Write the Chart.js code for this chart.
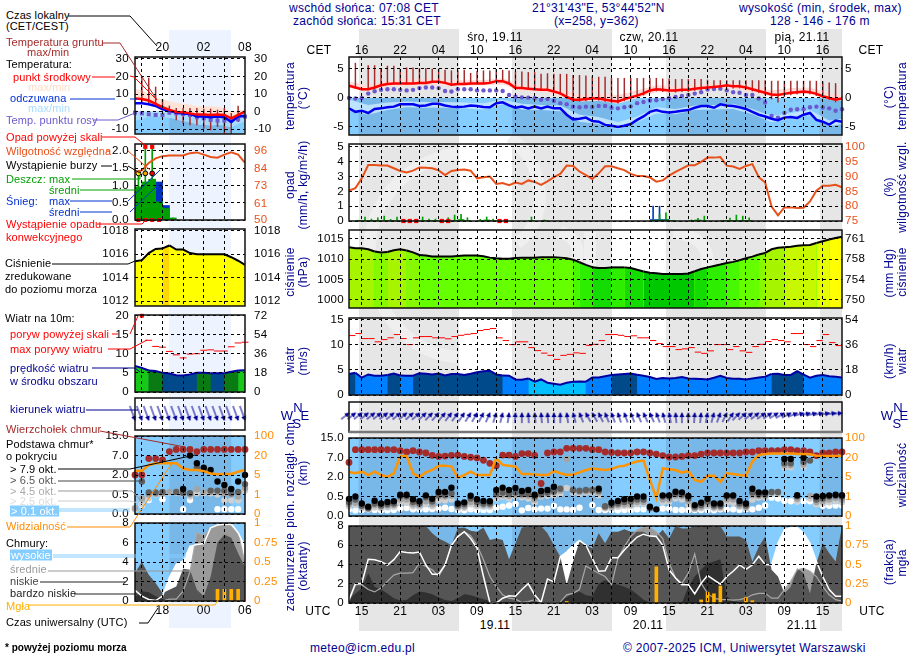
<!DOCTYPE html>
<html>
<head>
<meta charset="utf-8">
<title>Meteogram</title>
<script src="https://cdn.jsdelivr.net/npm/chart.js@4"></script>
<style>
  html, body { margin: 0; background: #fff; }
  #page { position: relative; width: 910px; height: 660px; overflow: hidden; font: 12px "Liberation Sans", Arial, sans-serif; letter-spacing: .3px; z-index: 0; }
  #page canvas { position: absolute; }
  .t { position: absolute; white-space: nowrap; line-height: 1; }
  svg { position: absolute; left: 0; top: 0; }
</style>
</head>
<body>
<div id="page"></div>
<script>
// --- time axes: hours since 13 UTC 18.11 (right), UTC hour from 18.11 00h - offset (left) ---
const hours = Array.from({ length: 78 }, (_, i) => i);
const leftHours = Array.from({ length: 17 }, (_, i) => i + 14);
const nightStart = [1.5, 25.5, 49.5, 73.5];
const nightEnd = [17.13, 41.13, 65.13, 77];
const leftNight = [19, 28];

const utcHours = [2, 8, 14, 20, 26, 32, 38, 44, 50, 56, 62, 68, 74];
const utcLabels = ['15', '21', '03', '09', '15', '21', '03', '09', '15', '21', '03', '09', '15'];
const cetLabels = ['16', '22', '04', '10', '16', '22', '04', '10', '16', '22', '04', '10', '16'];
const leftTickHours = [18, 24, 30];
const leftUtcLabels = ['18', '00', '06'];
const leftCetLabels = ['20', '02', '08'];

// --- temperature ---
const tempMid = [2.1,1.8,1.5,1.5,1.8,2.2,2.4,2.5,2.5,2.5,2.5,2.6,2.6,2.8,2.8,2.6,2.3,2.4,2.4,2.5,2.5,2.5,2.6,2.9,2.9,2.5,1.7,1.7,1.6,1.5,1.4,1.4,1.1,.8,.2,-.3,-.3,-.2,-.1,-.1,-.3,
  -.5,-.6,-.2,.1,.4,.8,1.3,1.5,1.4,1.3,1.3,1.4,1.4,1.6,1.7,1.8,1.9,2,2.2,2,2,1.8,1.5,1.2,.9,.6,.5,.7,.9,1,1.1,1,.7,.3,0,-.3,-.1];
const tempFeels = [-1.8,-2.4,-2.2,-2.6,-1.9,-1.8,-1.6,-1.5,-1.1,-1.1,-1.1,-1.4,-1.3,-1,-1,-1.3,-1.5,-1.55,-1.5,-1.3,-1.4,-1.55,-1.6,-.9,-.75,-1.3,-1.7,-1.5,-1.8,-1.5,-1.8,-1.5,-1.8,-1.8,-2.9,-3.7,-3.6,-3.4,-4,-4.1,-4.65,
  -4.8,-5,-4.8,-4.5,-3.8,-3.2,-2.4,-2.1,-2.4,-2.5,-2.4,-2.2,-2.1,-1.7,-1.4,-1.4,-1.7,-1.1,-1.3,-1.4,-1.6,-1.9,-2.4,-2.9,-3.2,-3.6,-3.85,-3.4,-3.3,-3.45,-2.9,-2.6,-3.8,-4.1,-4.6,-3.9,-4.1];
const tempDew = [0,-.1,0,.75,1.15,1.4,1.5,1.5,1.4,1.3,1.4,1.7,1.8,1.8,1.7,1.2,1.1,1.5,1.5,1.5,1.3,1.3,1.3,1.3,1.2,.5,.2,.1,.05,-.05,-.3,-.2,-.5,-.9,-1.1,-1.5,-1.6,-1.5,-1.55,-1.4,-1.4,
  -1.7,-1.8,-1.6,-1.45,-.9,-.7,-.45,-.4,-.2,-.05,.15,.35,.5,.75,1,1.45,1.55,1.6,1.3,1,.9,.5,.5,-.1,-.8,-3.1,-3.4,-2.6,-2.05,-1.95,-1.95,-1.6,-1.5,-1.65,-1.8,-2.2,-1.95];
const groundMax = [null,6,1.7,5.6,5.6,5.1,5.5,5.5,4.9,5.2,5.2,5.1,5.1,5,5,4.8,4.7,4.7,4.8,4.25,4.6,4.7,4.7,4.9,4.8,4.7,4.5,4.5,4.4,4.4,4.1,4.2,4.1,4.1,4.1,3.9,3.9,3.8,3.7,3.6,3.6,
  3.4,3.4,3.4,3.4,3.4,3.4,3.4,3.4,3.3,3.3,3.2,3.2,3.2,3.2,3.2,3.1,3,3,3,3,3,3,3,3,3,2.9,2.9,2.9,2.9,2.9,2.9,2.9,2.9,2.8,2.6,2.5,null];
const groundMin = [null,1.7,1.4,1.4,1.6,2,2.3,2.4,2.4,2.4,2.4,2.5,2.5,2.7,2.7,2.5,2.2,2.3,2.3,2.4,2.4,2.4,2.5,2.8,2.8,2.4,1.6,1.6,1.5,1.4,1.3,1.3,1,.6,-.1,-.6,-.6,-.5,-.4,-.4,-.6,
  -.8,-.9,-.5,-.2,.1,.5,1,1.2,1.1,1,1,1.1,1.1,1.3,1.4,1.5,1.6,1.7,1.9,1.7,1.7,1.5,1.2,.9,.5,-.2,-.75,.2,.5,.7,.8,.7,.4,0,-.3,-.7,null];
const bandHours = [0,3,6,9,12,15,18,21,24,27,30,33,36,39,42,45,48,51,54,57,60,63,66,69,72,75,77];
const tempBandMax = [2.8,2.2,3.1,3.2,3.3,3.2,3,3.1,3.4,2.2,2.1,1.5,.5,.7,.5,1.3,2.2,2,2.2,2.5,2.6,2,1.3,1.7,1.8,.8,.5];
const tempBandMin = [1.7,1.2,2,2.1,2.2,2.2,2.1,2.2,2.3,1.2,1.1,.3,-.6,-.5,-1,0,1,1,1.2,1.6,1.6,1,.2,.6,.7,-.3,-.5];
const feelsBandMax = [-.3,-1.2,-.8,-.6,-.7,-.7,-.8,-.9,-.3,-1,-1.2,-1.3,-2.9,-3.3,-4.2,-3.2,-1.6,-1.9,-1.3,-1.2,-1,-1.9,-3.1,-2.6,-2.1,-3.9,-3.6];
const feelsBandMin = [-2.2,-2.9,-2.1,-1.6,-1.7,-1.7,-1.8,-2,-1.1,-2,-2.1,-2.3,-4.1,-4.5,-5.4,-4.2,-2.7,-2.8,-2.1,-2,-1.9,-2.8,-4.2,-3.6,-3,-4.9,-4.5];

const lTempMid = [7.4,7.2,6.3,4.4,2.5,1,-.2,-.4,-1,-1.7,-1.7,-1.9,-1.7,-1.9,-3.8,-1.9,0];
const lTempFeels = [4.7,4.7,4.2,3.2,1.3,.6,-.6,-1,-1.3,-2.8,-2.8,-3.2,-2.8,-3.2,-5.9,-2.8,-2.5];
const lTempDew = [-.6,-1,-1.5,-1.9,-1.9,-.6,-1,-1.3,-1.9,-3.2,-3.8,-4.7,-5.1,-5.1,-5.1,-4.4,-2.8];
const lBandMax = [13,12,10,8,7,6,5,4.5,4,3,3,3,3,1.5,0,.5,1];
const lBandMin = [6.6,6.3,5.3,3.6,1.7,.2,-1,-1.2,-1.8,-2.4,-2.4,-2.6,-2.4,-2.6,-4.5,-2.6,-.8];
const lFeelsMax = [0,0,0,0,0,-.4,-.8,-1,-1.1,-2,-2,-2.4,-2,-2.4,-4.5,-2,-1.6];
const lFeelsMin = [-5,-4.5,-2.6,-2.8,-3,-3.5,-4.5,-5.5,-6,-7.5,-7.5,-8,-7.5,-8,-9,-7,-5.5];
const lGroundMax = [null,20,19,14,7,3.2,1.9,1.9,1.9,1.9,1.5,1.5,.9,1.9,-1,3.2,-1];
const lGroundMin = [null,4.7,4.7,2.8,1,-1.3,-4.7,-6.6,-7.6,-7.6,-9.5,-10.4,-8.5,-12.5,-12.5,-5.7,-1];

// --- precipitation and humidity ---
const humidity = [85.3,86.1,89.4,93.9,93.9,93.7,93.7,92.8,91.9,91.4,92,93.1,93,92.8,92.1,90.5,91.9,92.2,92.4,92,89.4,89.8,90,87.5,87.8,87.1,88,87.5,88.7,88.2,87.2,88.4,89.8,90.9,93.7,93.6,91.7,90.5,89.2,91.1,93.5,
  93.5,92.8,92.2,90.9,90.2,90.2,89.7,88.3,88.7,90.3,91.6,92.7,93.8,93.8,95,96.4,96.4,96.6,93.7,93.4,92.6,93.6,94.2,89.8,88,79.9,76.9,79.6,79.6,79.4,79.5,81.6,85.2,86.9,86.9,87.2,86.4];
const rainHours = [1.5,2.5,3.5,4.5,5.5,6.5,7.5,10.5,11.5,12.5,13.5,15.5,16.5,17.5,18.5,20.5,21.5,22.5,28.5,30.5,47.5,48.5,49.5,50.5,53.5,54.5,55.5,58.5,59.5,60.5,61.5,62.5];
const rainMax = [.05,.27,.13,.22,.33,.11,.27,.07,.27,.13,.13,.22,.4,.45,.22,.11,.27,.13,.27,.07,.1,.45,.55,.04,.07,.18,.33,.05,.2,.4,.33,.22];
const rainMean = [.01,.03,.02,.03,.04,.02,.03,.01,.03,.02,.02,.03,.05,.1,.03,.02,.07,.02,.03,.01,.03,.07,.07,.01,.02,.07,.03,.01,.02,.04,.03,.02];
const snowHours = [47.5,48.5,49.5];
const snowMax = [1,1,.1];
const snowMean = [.1,.1,.1];
const convectiveHours = [8.5,9.5,10.5,14.5,15.5,23.5,24.5];

const lHumidity = [82,83,88,91,92.5,93,93,93,94.5,95,93.5,92,91.5,93.5,95,93.5,88];
const lRainHours = [14.5,15.5,16.5,17.5,18.5,19.5];
const lRainMean = [.96,1.1,1.18,.52,.33,.06];
const lSnowMean = [0,0,0,1.1,.42,0];
const lRainMax = [1.35,2.12,2.12,.52,.33,.06];
const lStormHours = [14.5,15.5,16.5];
const lStormLevel = [1.35,1.35,1.35];
const lOverScale = [2.12,2.12];
const lOverHours = [15.5,16.5];
const lConvectiveHours = [14.5,15.5,16.5,17.5];

// --- pressure ---
const pressure = [1012.95,1012.7,1012.7,1012.45,1011.9,1011.65,1011.8,1012.2,1012.45,1012.15,1011.7,1011.05,1010.9,1010.65,1010.65,1010.65,1010.65,1010.8,1010.9,1010.9,1010.9,1010.75,1010.4,1010.25,1010.15,1010.15,1010.3,1010.4,1010.4,1010.4,1010.5,1010.5,1010.5,1010.4,1010.25,1009.9,1009.25,1008.6,1008.05,1007.85,1007.85,
  1008,1008,1008,1007.85,1007.4,1007,1006.7,1006.55,1006.4,1006.4,1006.4,1006.4,1006.5,1007.05,1007.6,1008,1008.35,1008.7,1009.1,1009.35,1009.75,1010.25,1010.65,1011.15,1011.55,1012.45,1012.85,1012.95,1013.1,1013.35,1013.45,1013.5,1014,1014.45,1014.85,1015.25,1015.55];
const lPressure = [1015.4,1015.5,1016.1,1016.45,1016.5,1016.75,1016.4,1016.4,1016.1,1016,1016,1016,1016,1016,1015.75,1015.45,1015.1];

// --- wind ---
const windSpeed = [4.2,4.45,3.45,4.1,3.85,3.85,4,4.3,3.9,3.85,3.85,4.35,4.25,4.1,4.3,3.9,4.2,4.2,4,4.25,4.55,4.75,4.85,4.1,3.9,3.85,3.1,3.05,3.3,2.65,3.1,2.45,2.25,2.05,2.45,2.65,2.7,2.65,3.5,3.5,3.75,
  4,4.1,4.2,4.3,4.05,3.85,3.6,3.2,3.4,3.3,3.4,3.6,3.3,3.25,3.2,3.1,3.45,3.85,3.4,3.25,3.25,3.1,3.3,3.5,3.65,4.2,4.25,4,4,4.75,4.05,3.45,3.85,4,3.75,3.65,3.5];
const gustHours = [.5,1.5,2.5,3.5,4.5,5.5,6.5,7.5,8.5,9.5,10.5,11.5,12.5,13.5,14.5,15.5,16.5,17.5,18.5,19.5,20.5,21.5,22.5,23.5,24.5,25.5,26.5,27.5,28.5,29.5,30.5,31.5,32.5,33.5,34.5,35.5,36.5,37.5,38.5,39.5,40.5,
  41.5,42.5,43.5,44.5,45.5,46.5,47.5,48.5,49.5,50.5,51.5,52.5,53.5,54.5,55.5,56.5,57.5,58.5,59.5,60.5,61.5,62.5,63.5,64.5,65.5,66.5,67.5,68.5,69.5,70.5,71.5,72.5,73.5,74.5,75.5,76.5];
const windGust = [11.85,12.25,11.25,11.25,10.6,11.05,11.4,12.05,11.25,10.05,11.4,11.65,11.65,11.4,11.4,11.2,11.65,11.9,12.1,12.25,12.85,13.05,13.25,11.4,10.85,10.05,10.6,10.6,9.45,8.85,8.35,7.9,7.1,7.9,8.1,8.4,8.3,9.9,10.1,10.85,12.05,
  12.05,11.9,11.65,11.8,11.4,11.4,10.85,10.25,9.65,9.65,9.05,9.2,9.45,8.55,8.3,8.8,10.05,10.05,9.05,9.65,8.8,8.5,9.65,10.1,10.65,11.05,10.85,10.6,12.25,12.25,10.05,9.65,10.85,12.05,10.45,9.85];
const windDir = [52,52,52,52,52,52,52,50,50,50,48,48,46,44,42,40,38,36,34,32,30,28,24,18,14,8,4,0,-3,-5,-5,-4,-2,0,-8,-15,-22,-28,-30,-26,-22,
  -20,-18,-20,-22,-24,-25,-24,-20,-15,-10,-5,0,2,4,6,10,15,20,26,34,44,48,50,52,54,56,58,60,62,68,74,76,76,78,80,83,85];
const lWindSpeed = [6.8,6.3,5.6,5.5,5,4.8,4.4,4.3,4.6,5,5,4.9,4.9,4.9,5.3,5.6,5.7];
const lGustHours = [16,17,18,19,20,21,22,23,24,25,26,27,28,29,30];
const lGust = [13.5,11.9,11.7,10.6,9.7,8.9,9.9,10,10.9,11,10.7,10.7,11.8,12.8,13];
const lWindDir = [160,160,160,160,160,160,160,160,160,160,160,160,160,160,160,160,160];

// --- cloud bases and tops (km), visibility (km) ---
const cloudTop = [5.75,10.2,10.2,10.2,10.2,10.2,10.2,10.2,9.8,9.25,9.8,9.25,8.85,7.9,7.45,7.6,7.9,8,7.45,7.1,6.9,6.3,5.5,4.9,8,8,7.45,8.6,8.6,7.9,1.5,8.85,9.25,9.25,10.75,10.75,10.75,10.75,10.2,10.2,9.25,
  9.1,8.85,8.85,8.85,9.25,9.25,8.85,8.4,7.8,7.2,7.2,7.45,7.8,7.8,8.4,8.85,8.85,8.85,8.85,8.85,8.85,9.25,9.25,9.8,9.8,9.8,9.8,10.2,10.2,9.8,9.8,9.25,7.8,8.85,8.85,9.25,9.25];
const base79 = [.44,.5,.32,.24,.39,.32,.36,.38,.64,.64,.43,.38,.59,.44,.85,.85,1.18,.32,.35,.56,.43,.385,.38,1,1.18,1,1.15,.92,1,.64,.92,1,1.25,null,null,null,null,null,null,1.1,null,
  .34,.385,.43,.44,.5,.5,.24,.17,.59,.59,.87,.82,.54,.28,.34,.44,.32,.32,.59,.59,.385,.32,1.1,.82,.82,null,null,6.6,6.6,.6,6.95,null,.5,.54,.59,.64,.6];
const base65 = [.36,.42,.26,.2,.32,.27,.3,.32,.52,.52,.36,.32,.48,.37,.62,.62,.75,.27,.3,.45,.36,.32,.32,.7,.8,.7,.8,.7,.7,.5,.7,.8,.9,1.1,null,1,.95,1,1,.95,.25,
  .28,.32,.36,.37,.42,.42,.2,null,.5,.5,.7,.65,.45,.24,.28,.37,.27,.27,.5,.5,.32,.27,.8,.65,.65,.85,.85,5.5,5.5,.52,5.9,6.2,.42,.45,.5,.55,.5];
const base45 = [.3,.34,.24,.2,.28,.24,.27,.28,.42,.42,.3,.28,.38,.3,.5,.5,.55,.24,.25,.36,.3,.28,.28,.55,.62,.55,.6,.6,.55,.42,.6,.7,.8,.95,6.6,.95,.85,.9,.9,.8,.22,
  .24,.28,.3,.3,.36,.36,null,null,.42,.42,.55,.52,.37,.2,.24,.3,.23,.23,.42,.42,.27,.23,.6,.55,.55,.8,.8,5,5,.44,5.2,.55,.36,.38,.42,.46,.42];
const base25 = [.25,.28,.2,.17,.22,.2,.22,.24,.34,.34,.25,.24,.3,.25,.4,.4,.42,.2,.21,.3,.25,.24,.24,.45,.5,.45,.5,.48,.45,.36,.5,.55,.6,.7,1.15,.8,.7,.8,.8,.6,.2,
  .2,.24,.26,.26,.3,.3,null,null,.36,.36,.45,.42,.3,.18,.2,.25,.2,.2,.34,.34,.24,.2,.42,.47,.47,.7,.7,4.5,4.5,.38,4.6,.45,.3,.32,.35,.38,.35];
const base01 = [.17,.145,.154,.17,.154,.145,.145,.154,.19,.205,.17,.17,.17,.18,.19,.21,.18,.154,.145,.17,.154,.154,.154,.21,.24,.27,.31,.145,.205,.17,.19,.19,.26,.17,.17,.16,.21,null,.28,.154,.154,
  .154,.145,.154,.154,.17,.17,null,null,.19,.19,.154,.154,.154,.154,.154,.154,.145,.17,.17,.17,.154,.17,.17,.21,.27,.47,.45,.39,.38,.38,.38,.38,.31,.26,.26,.27,.27];
const visibility = [8.9,7.85,9.1,6.5,9.1,6.5,5.05,7.85,26,26,7.85,5.05,8.6,10.4,13.7,13.7,13,4.85,6.5,9.1,6.5,6.5,6.5,19.4,14.3,13.7,13,7.3,7.3,7,6.5,6.5,9.6,7.85,6.5,7,8.6,10.4,11.6,10.9,10.4,
  11.2,13,13.7,15.5,16.9,17.6,4.4,.91,11.6,10.9,10.4,8.3,9.8,4.4,4,6,6,4,7.85,7.3,6.5,6,16.9,30,34,36,36,36,36,34,34,33,27,26,26,26,27];

const lCloudTop = [2,2,6.2,6.2,5.85,8.6,9.5,9.5,9.5,8.6,9.5,9.5,9.5,9.5,9.5,9.5,9.5];
const lBase79 = [null,null,null,null,null,null,null,.92,7,5,3.9,3.3,1.5,1.24,.92,1.5,2];
const lBase65 = [null,1.5,.66,.66,.7,null,.7,.62,.6,4,3.3,.8,.8,.8,.6,.7,1.3];
const lBase45 = [.15,.4,.5,.55,.6,.7,.7,.62,.5,.9,.7,.7,.7,.6,.5,.45,1];
const lBase25 = [.12,.25,.4,.5,.55,.65,.65,.55,.45,.6,.6,.6,.5,.35,.35,.35,.8];
const lBase01 = [null,.23,.36,null,.38,null,null,.12,.36,null,null,null,.12,.12,.12,.12,null];
const lVisibility = [8.3,8.3,12.7,14,14,14,14,10,8.9,8.9,8,6.2,5.5,5.75,5.75,7.5,8.9];

// --- cloud cover (oktas), fog (fraction) ---
const cloudHigh = [.35,2,2.05,4.55,4.5,4.3,3.95,4.5,5.35,5.25,5.2,5.3,3.95,3,3,3.95,6,6.9,7.4,6.7,5.7,2.75,.05,0,.5,.75,.7,1.4,2,.85,.05,2.5,2.2,4.8,5.3,6,6.5,6,4.65,3.3,3.35,
  4.7,4.7,5.5,6.2,6.85,7.15,6.95,6.9,6,3.45,2.6,1.9,1.9,.95,2.05,2.85,2.4,1.95,2.75,3.3,3.95,3.5,3.95,4.85,4,3.95,6.2,7.6,7.85,7.85,7.25,6.2,4.3,2.75,1.4,.7,.7];
const cloudMid = [.2,1.9,1.9,1.4,1.15,1.55,2.25,2.9,3.1,3.1,3.15,4.15,3.8,3.45,2.75,3.95,6,6.9,7.4,7,6,4.5,2.75,1.7,.85,.5,.4,.05,.15,.35,.05,.05,.05,.1,.85,1,1.4,3.85,3.45,3.1,2.75,
  1.9,4.65,5.85,6.9,7.6,7.9,7.85,7.4,6.7,4.15,2.6,2.05,3.1,5.1,2.05,1,.5,.35,.35,.3,.35,.5,.85,1,1,.5,.5,1.4,2.25,3.45,3.6,3.3,2.75,1.7,.85,.35,.2];
const cloudLow = [7.93,8,8,8,7.93,8,8,8,7.93,8,8,8,8,7.25,6.7,6.4,6,7.8,7.85,7.5,7.4,7.85,6.55,6.7,6.55,4.55,6.2,7.85,7.93,7.93,8,7.25,6,4.8,1.9,4.3,6.4,6,5.7,7.25,6.2,
  7.4,7.4,7.65,7.4,7.4,7.4,7,6.9,7.6,6.7,8,7.75,7.75,8,8,8,7.93,8,6.9,6.9,6.9,6.55,4.3,5.85,6.9,3.45,2.75,1,1.7,3.6,3.1,1,4.15,6.2,5.2,4.3,8];
const cloudVeryLow = [.4,1,1.5,3.1,1.7,1.4,1,.5,.25,.3,.8,1.2,1.1,.9,.6,.3,.2,.5,.9,.8,.6,.4,.2,.1,.1,.1,.1,.1,.1,.1,.1,.1,.1,.2,.6,1,1.2,.8,.7,2,2.4,
  2.1,1.9,1.7,1.4,.9,.35,.05,0,0,0,0,0,1.7,2.75,3.45,4.1,4.3,4.55,.7,.2,.1,.1,.1,.1,0,0,0,0,0,0,0,0,0,0,0,0,0];
const fogHours = [34,48,55,56,57,58,62,63];
const fogLevel = [.02,.47,.04,.14,.12,.22,.07,.03];

const lCloudHigh = [1.1,.5,.15,.05,.5,2.4,3.75,4.1,5.6,5.8,5.9,7.5,7.8,7.9,7.9,7,5.6];
const lCloudMid = [0,0,0,0,0,.2,.2,1,3,7,6.7,7.5,7.8,7.8,7.7,7,3.9];
const lCloudLow = [2.9,4,2.7,1.85,.8,1.15,1.5,3.3,3.2,1.15,.5,2.5,6,6.8,6.5,4.9,3.5];
const lCloudVeryLow = [.4,1,.9,.5,.2,0,0,0,0,0,0,0,0,0,0,0,0];
const lFogHours = [26,27,28,29];
const lFogLevel = [.15,.15,.15,.15];

// --- non-linear axes of the cloud panel (equal spacing between the knots) ---
const baseTicks = [0, .5, 2, 7, 15];
const baseTickLabels = ['0.0', '0.5', '2.0', '7.0', '15.0'];
const visTicks = [0, 1, 5, 20, 100];
const visTickLabels = ['0', '1', '5', '20', '100'];

function toLevel(v, knots) {
  if (v === null) return null;
  for (let i = 0; i < knots.length - 1; i++) {
    if (v <= knots[i + 1]) return i + (v - knots[i]) / (knots[i + 1] - knots[i]);
  }
  return knots.length - 1;
}

const NAVY = '#000090';
const RED_ORANGE = '#e8501a';
const ORANGE = '#ff8c00';
const SKY = '#86cdff';
const FONT = '"Liberation Sans", Arial, sans-serif';
const DASH = [3, 3];
const page = document.getElementById('page');

// right block: plot 349-842, left block: plot 135-245
const mainBox = { x: 300, w: 600, plotL: 49, plotR: 58, xMin: 0, xMax: 77, gridHours: [], hours, night: [nightStart, nightEnd], padL: 5, padR: 3 };
for (let h = 2; h <= 74; h += 3) mainBox.gridHours.push(h);
const leftBox = { x: 85, w: 205, plotL: 50, plotR: 45, xMin: 14, xMax: 30, gridHours: [15, 18, 21, 24, 27], hours: leftHours, night: [[leftNight[0]], [leftNight[1]]], padL: 6, padR: 9 };

function pts(xs, ys) {
  return xs.map((x, i) => ({ x, y: ys[i] })).filter(p => p.y !== null);
}
function hpx(box, h) {
  return box.x + box.plotL + (h - box.xMin) * (box.w - box.plotL - box.plotR) / (box.xMax - box.xMin);
}

function lineDs(xs, ys, color, width, extra) {
  return Object.assign({ type: 'line', data: pts(xs, ys), borderColor: color, borderWidth: width, pointRadius: 0, tension: 0, yAxisID: 'y' }, extra);
}
function bandDs(xs, upper, lower, color) {
  return [
    lineDs(xs, upper, 'transparent', 0, { fill: '+1', backgroundColor: color }),
    lineDs(xs, lower, 'transparent', 0, {}),
  ];
}
function dotDs(xs, ys, color, radius, extra) {
  return Object.assign({ type: 'line', data: pts(xs, ys), showLine: false, pointRadius: radius, pointBackgroundColor: color, pointBorderColor: color, pointBorderWidth: 0, yAxisID: 'y', clip: false }, extra);
}
function barDs(xs, ys, color, thickness, extra) {
  return Object.assign({ type: 'bar', data: pts(xs, ys), backgroundColor: color, barThickness: thickness, grouped: false, yAxisID: 'y', borderWidth: 0 }, extra);
}
function rangeBars(xs, lo, hi, color) {
  const data = xs.map((x, i) => ({ x, y: lo[i] === null ? null : [lo[i], hi[i]] })).filter(p => p.y);
  return { type: 'bar', data, backgroundColor: color, barThickness: .8, grouped: false, yAxisID: 'y', borderWidth: 0 };
}
function gustDs(xs, ys, radius) {
  return dotDs(xs, ys, '#ff0000', radius, { pointStyle: 'line', pointBorderWidth: 1, clip: false });
}

function pressureColor(p) {
  if (p >= 1016.6) return '#ffd800';
  const ramp = { 1006: '#00c800', 1007: '#14dc00', 1008: '#2eee00', 1009: '#48f800', 1010: '#66ff00', 1011: '#88f800', 1012: '#a6f400', 1013: '#c8f800', 1014: '#e6fc00', 1015: '#ffff00', 1016: '#ffff00' };
  return ramp[Math.floor(p)];
}
function windColor(v) {
  if (v >= 5.65) return '#18c818';
  if (v >= 4.95) return '#0a7a12';
  if (v >= 4) return '#004a8c';
  if (v >= 3.05) return '#0080ff';
  return '#00bfff';
}
function segmentFill(colorOf) {
  return { backgroundColor: ctx => colorOf((ctx.p0.parsed.y + ctx.p1.parsed.y) / 2) };
}
function areaDs(xs, ys, color, extra) {
  return lineDs(xs, ys, 'transparent', 0, Object.assign({ fill: 'start', backgroundColor: color }, extra));
}

function arrowPoint(len) {
  const c = document.createElement('canvas');
  c.width = c.height = len * 2 + 2;
  const g = c.getContext('2d');
  const m = len + 1;
  g.strokeStyle = '#000098';
  g.fillStyle = '#000098';
  g.lineWidth = 1;
  g.beginPath(); g.moveTo(m, m); g.lineTo(m, m + len); g.stroke();
  g.beginPath(); g.moveTo(m, m - 1); g.lineTo(m - 2.5, m + 4); g.lineTo(m + 2.5, m + 4); g.closePath(); g.fill();
  return c;
}

// sky background, night shading on the blue parts, panel frame
const panelPlugin = {
  id: 'panelPlugin',
  beforeDatasetsDraw(chart) {
    const o = chart.config.options.panel || {};
    const a = chart.chartArea;
    const g = chart.ctx;
    if (o.sky === undefined) return;
    const top = o.sky === 'all' ? a.top : chart.scales.y.getPixelForValue(o.sky);
    g.save();
    g.fillStyle = SKY;
    g.fillRect(a.left, top, a.width, a.bottom - top);
    g.fillStyle = 'rgba(0,0,40,.1)';
    const [starts, ends] = o.night;
    starts.forEach((s, i) => {
      const x0 = chart.scales.x.getPixelForValue(s);
      const x1 = chart.scales.x.getPixelForValue(ends[i]);
      g.fillRect(x0, top, x1 - x0, a.bottom - top);
    });
    g.restore();
  },
  afterDraw(chart) {
    const a = chart.chartArea;
    const g = chart.ctx;
    const o = chart.config.options.panel || {};
    g.save();
    g.strokeStyle = '#111';
    g.lineWidth = 1.5;
    g.strokeRect(a.left, a.top, a.width, a.height);
    if (o.bottomBar) {
      g.strokeStyle = '#777';
      g.lineWidth = 2.5;
      g.beginPath(); g.moveTo(a.left, a.bottom); g.lineTo(a.right, a.bottom); g.stroke();
    }
    g.restore();
  },
};

function yAxis(min, max, ticks, position, box, fmt, color) {
  const width = position === 'left' ? box.plotL : box.plotR;
  return {
    type: 'linear', position, min, max, display: true,
    afterFit: s => { s.width = width; s.paddingTop = 0; s.paddingBottom = 0; },
    afterBuildTicks: s => { s.ticks = ticks.map(value => ({ value })); },
    border: { display: false, dash: DASH },
    grid: position === 'left'
      ? { display: true, color: '#000', lineWidth: 1, z: 1, drawTicks: false }
      : { display: false, drawTicks: false },
    ticks: {
      display: !!fmt, autoSkip: false, padding: position === 'left' ? box.padL : box.padR, color: color || '#000',
      font: { family: FONT, size: 11.5 }, callback: fmt || (v => v),
    },
  };
}

function panel(box, top, bottom, scales, datasets, panelOpts) {
  const c = document.createElement('canvas');
  const pad = 10;
  c.width = box.w;
  c.height = bottom - top + pad * 2;
  c.style.left = box.x + 'px';
  c.style.top = (top - pad) + 'px';
  page.appendChild(c);
  datasets.forEach((d, i) => { d.order = datasets.length - i; });
  const opts = {
    responsive: false, animation: false, devicePixelRatio: 1, events: [],
    layout: { padding: { top: pad, bottom: pad, left: 0, right: 0 } },
    plugins: { legend: { display: false }, tooltip: { enabled: false } },
    panel: Object.assign({ night: box.night }, panelOpts),
    scales: Object.assign({
      x: {
        type: 'linear', min: box.xMin, max: box.xMax, offset: false, position: 'bottom',
        afterFit: s => { s.height = 0; s.paddingLeft = 0; s.paddingRight = 0; },
        afterBuildTicks: s => { s.ticks = box.gridHours.map(value => ({ value })); },
        border: { display: false, dash: DASH },
        grid: { offset: false, color: '#000', lineWidth: 1, z: 1, drawTicks: false },
        ticks: { display: false },
      },
    }, scales),
  };
  return new Chart(c, { type: 'line', data: { datasets }, options: opts, plugins: [panelPlugin] });
}

const labelOf = v => String(v);
const step = d => v => v.toFixed(d);

// ---- right block ----
const main = mainBox;
panel(main, 57, 135, {
  y: yAxis(-6.4, 7.07, [-5, 0, 5], 'left', main, labelOf),
  yr: yAxis(-6.4, 7.07, [-5, 0, 5], 'right', main, labelOf),
}, [
  ...bandDs(bandHours, tempBandMax, tempBandMin, '#ffdcd8'),
  ...bandDs(bandHours, feelsBandMax, feelsBandMin, 'rgba(200,232,255,.85)'),
  rangeBars(hours, groundMin, groundMax, '#a52a2a'),
  dotDs(hours, tempDew, '#6a5acd', 2.2),
  lineDs(hours, tempFeels, '#0000ee', 2.5),
  lineDs(hours, tempMid, '#ff0000', 2.5),
], { sky: 0 });

panel(main, 144, 221.5, {
  y: yAxis(0, 5.2, [0, 1, 2, 3, 4, 5], 'left', main, labelOf),
  rh: yAxis(75, 101, [75, 80, 85, 90, 95, 100], 'right', main, labelOf, RED_ORANGE),
}, [
  barDs(snowHours, snowMean, '#0040c0', 6),
  barDs(rainHours, rainMean, '#00a000', 6),
  barDs(snowHours, snowMax, '#0040c0', 1),
  barDs(rainHours, rainMax, '#00a000', 1),
  dotDs(convectiveHours, convectiveHours.map(() => 0), '#ff0000', 3, { pointStyle: 'rect' }),
  lineDs(hours, humidity, '#e8501a', 2, { yAxisID: 'rh' }),
]);

panel(main, 230, 308, {
  y: yAxis(998, 1017.2, [1000, 1005, 1010, 1015], 'left', main, labelOf),
  yr: yAxis(998, 1017.2, [1000, 1005, 1010, 1015], 'right', main, v => Math.round(v * .75006)),
}, [
  areaDs(hours, pressure, '#66ff00'),
  lineDs(hours, pressure, '#000', 2, { fill: 'start', backgroundColor: '#66ff00', segment: segmentFill(pressureColor) }),
]);

panel(main, 318, 395, {
  y: yAxis(0, 15.35, [0, 5, 10, 15], 'left', main, labelOf),
  yr: yAxis(0, 15.35, [0, 5, 10, 15], 'right', main, v => v * 3.6),
}, [
  areaDs(hours, windSpeed, '#0070e0'),
  lineDs(hours, windSpeed, '#0000a0', 2, { fill: 'start', backgroundColor: '#0080ff', segment: segmentFill(windColor) }),
  gustDs(gustHours, windGust, 3.2),
]);

const arrowMain = arrowPoint(10);
panel(main, 402, 432, {
  y: { type: 'linear', display: false, min: 0, max: 1 },
  yl: yAxis(0, 1, [], 'left', main),
  yr: yAxis(0, 1, [], 'right', main),
}, [
  dotDs(hours, hours.map(() => .63), '#000098', 6, { pointStyle: arrowMain, pointRotation: windDir, clip: false }),
], { bottomBar: true });

function basePanel(box, top, bottom, xs, d) {
  const ks = v => toLevel(v, baseTicks);
  return panel(box, top, bottom, {
    y: yAxis(0, 4, [0, 1, 2, 3, 4], 'left', box, v => baseTickLabels[v]),
    yr: yAxis(0, 4, [0, 1, 2, 3, 4], 'right', box, v => visTickLabels[v], ORANGE),
  }, [
    dotDs(xs, d.base01.map(ks), '#fff', 3.2),
    dotDs(xs, d.base25.map(ks), '#cfcfcf', 3.2),
    dotDs(xs, d.base45.map(ks), '#a4a4a4', 3.2),
    dotDs(xs, d.base65.map(ks), '#5f5f5f', 3.2),
    dotDs(xs, d.base79.map(ks), '#000', 3.2),
    dotDs(xs, d.top.map(ks), '#a52a2a', 3.4),
    lineDs(xs, d.vis.map(v => toLevel(v, visTicks)), '#ff9400', 2.5),
  ], { sky: 'all' });
}
basePanel(main, 438, 516, hours, { base01, base25, base45, base65, base79, top: cloudTop, vis: visibility });

function coverPanel(box, top, bottom, xs, d, fogW) {
  return panel(box, top, bottom, {
    y: yAxis(0, 8, [0, 2, 4, 6, 8], 'left', box, labelOf),
    fog: yAxis(0, 1, [0, .25, .5, .75, 1], 'right', box, labelOf, ORANGE),
  }, [
    areaDs(xs, d.high, '#ffffff'),
    areaDs(xs, d.mid, '#9a9a9a'),
    areaDs(xs, d.low, '#555555'),
    areaDs(xs, d.vlow, '#303030'),
    lineDs(xs, d.mid, '#a8a8a8', 1.2),
    lineDs(xs, d.high, '#ffffff', 1.5),
    barDs(d.fogX, d.fog, '#ffb000', fogW, { yAxisID: 'fog' }),
  ], { sky: 'all' });
}
coverPanel(main, 526, 603, hours, { high: cloudHigh, mid: cloudMid, low: cloudLow, vlow: cloudVeryLow, fogX: fogHours, fog: fogLevel }, 3);

// ---- left block ----
const left = leftBox;
panel(left, 57, 134, {
  y: yAxis(-12.7, 31, [-10, 0, 10, 20, 30], 'left', left, labelOf),
  yr: yAxis(-12.7, 31, [-10, 0, 10, 20, 30], 'right', left, labelOf),
}, [
  ...bandDs(leftHours, lBandMax, lBandMin, '#ffe2d6'),
  ...bandDs(leftHours, lFeelsMax, lFeelsMin, 'rgba(175,222,255,.85)'),
  rangeBars(leftHours, lGroundMin, lGroundMax, '#a52a2a'),
  dotDs(leftHours, lTempDew, '#6a5acd', 2.8, { pointStyle: 'rect' }),
  lineDs(leftHours, lTempFeels, '#0000ee', 2.5),
  lineDs(leftHours, lTempMid, '#ff0000', 2.5),
], { sky: 0 });

const lRhTicks = [50, 61, 73, 84, 96];
panel(left, 144, 220, {
  y: yAxis(0, 2.2, [0, .5, 1, 1.5, 2], 'left', left, step(1)),
  rh: yAxis(50, 100.6, lRhTicks, 'right', left, labelOf, RED_ORANGE),
}, [
  barDs(lRainHours, lSnowMean, '#0030c0', 7),
  barDs(lRainHours, lRainMean, '#00a000', 7),
  barDs(lRainHours, lRainMax, '#00a000', 1),
  dotDs(lConvectiveHours, lConvectiveHours.map(() => 0), '#ff0000', 2.8, { pointStyle: 'rect' }),
  dotDs(lOverHours, lOverScale, '#ff0000', 3, { pointStyle: 'rect' }),
  dotDs(lStormHours, lStormLevel, ['#ffee00', '#f0a000', '#ff0000'], 2.4, { pointBorderColor: '#000', pointBorderWidth: 1 }),
  lineDs(leftHours, lHumidity, '#e8501a', 2, { yAxisID: 'rh' }),
]);

panel(left, 229, 306, {
  y: yAxis(1011.6, 1018.15, [1012, 1014, 1016, 1018], 'left', left, labelOf),
  yr: yAxis(1011.6, 1018.15, [1012, 1014, 1016, 1018], 'right', left, labelOf),
}, [
  areaDs(leftHours, lPressure, '#ffff00'),
  lineDs(leftHours, lPressure, '#000', 2, { fill: 'start', backgroundColor: '#ffff00', segment: segmentFill(pressureColor) }),
]);

panel(left, 315, 392, {
  y: yAxis(0, 20.1, [0, 5, 10, 15, 20], 'left', left, labelOf),
  yr: yAxis(0, 20.1, [0, 5, 10, 15, 20], 'right', left, v => v * 3.6),
}, [
  areaDs(leftHours, lWindSpeed, '#0a6a30'),
  lineDs(leftHours, lWindSpeed, '#0000a0', 2, { fill: 'start', backgroundColor: '#0a7a12', segment: segmentFill(windColor) }),
  gustDs(lGustHours, lGust, 3.4),
  dotDs([15], [19.9], '#ff0000', 2.8, { pointStyle: 'rect' }),
]);

const arrowLeft = arrowPoint(15);
panel(left, 398, 430, {
  y: { type: 'linear', display: false, min: 0, max: 1 },
  yl: yAxis(0, 1, [], 'left', left),
  yr: yAxis(0, 1, [], 'right', left),
}, [
  dotDs(leftHours, leftHours.map(() => .31), '#000098', 6, { pointStyle: arrowLeft, pointRotation: lWindDir, clip: false }),
]);

basePanel(left, 436, 514, leftHours, { base01: lBase01, base25: lBase25, base45: lBase45, base65: lBase65, base79: lBase79, top: lCloudTop, vis: lVisibility });
coverPanel(left, 523, 601, leftHours, { high: lCloudHigh, mid: lCloudMid, low: lCloudLow, vlow: lCloudVeryLow, fogX: lFogHours, fog: lFogLevel }, 3);

// ---- day/night bands and the faint logo behind the (transparent) canvases ----
function strip(x0, x1, y0, y1, color) {
  const d = document.createElement('div');
  d.style.cssText = `position:absolute;left:${x0}px;top:${y0}px;width:${x1 - x0}px;height:${y1 - y0}px;background:${color};z-index:-2`;
  page.appendChild(d);
}
nightStart.forEach((s, i) => strip(hpx(main, s), hpx(main, nightEnd[i]), 29, 631, '#e6e6e6'));
strip(hpx(left, leftNight[0]), hpx(left, leftNight[1]), 30, 628, '#eef4ff');

const svgNS = 'http://www.w3.org/2000/svg';
const logoShapes = [
  'M457 153 C395 165 360 215 372 275 C382 325 420 355 457 357',
  'M510 137 C535 155 545 190 537 215 C533 228 525 238 517 243',
  'M560 232 C585 240 582 265 560 285',
  'M590 232 L590 300',
  'M673 233 C705 235 712 255 705 275 L700 300',
];
const logo = document.createElementNS(svgNS, 'svg');
logo.setAttribute('width', 910);
logo.setAttribute('height', 660);
logo.style.zIndex = -1;
logoShapes.forEach(p => {
  const el = document.createElementNS(svgNS, 'path');
  el.setAttribute('d', p);
  el.setAttribute('fill', 'none');
  el.setAttribute('stroke', '#efefef');
  el.setAttribute('stroke-width', 12);
  logo.appendChild(el);
});
page.appendChild(logo);

// ---- texts ----
function text(s, x, y, color, o = {}) {
  const d = document.createElement('div');
  d.className = 't';
  d.textContent = s;
  d.style.left = x + 'px';
  d.style.top = y + 'px';
  d.style.color = color || '#000';
  d.style.transform = `translate(${o.center ? '-50%' : '0'},-50%)` + (o.rotate ? ' rotate(-90deg)' : '');
  if (o.size) d.style.fontSize = o.size + 'px';
  if (o.bg) { d.style.background = o.bg; d.style.padding = '0 1px'; }
  if (o.bold) d.style.fontWeight = 'bold';
  if (o.ls !== undefined) d.style.letterSpacing = o.ls + 'px';
  page.appendChild(d);
}

const headerTexts = [
  ['wschód słońca: 07:08 CET', 289, 8], ['zachód słońca: 15:31 CET', 293, 21],
  ['21°31\'43"E, 53°44\'52"N', 532, 8], ['(x=258,  y=362)', 554, 21],
  ['wysokość (min, środek, max)', 739, 8], ['128 - 146 - 176 m', 770, 21],
  ['meteo@icm.edu.pl', 310, 648], ['© 2007-2025 ICM, Uniwersytet Warszawski', 623, 648],
];
headerTexts.forEach(([s, x, y]) => text(s, x, y, NAVY));

utcHours.forEach((h, i) => {
  text(cetLabels[i], hpx(main, h), 50, '#000', { center: true });
  text(utcLabels[i], hpx(main, h), 611, '#000', { center: true });
});
leftTickHours.forEach((h, i) => {
  text(leftCetLabels[i], hpx(left, h), 47, '#000', { center: true });
  text(leftUtcLabels[i], hpx(left, h), 610, '#000', { center: true });
});
[['CET', 319, 50], ['CET', 871, 50], ['UTC', 318, 611], ['UTC', 872, 611],
 ['śro, 19.11', 495, 37], ['czw, 20.11', 649, 37], ['pią, 21.11', 802, 37],
 ['19.11', 495, 625], ['20.11', 648, 625], ['21.11', 802, 625]].forEach(([s, x, y]) => text(s, x, y, '#000', { center: true }));

const axisTitles = [
  ['temperatura', 290, 96], ['(°C)', 303, 98], ['opad', 290, 185], ['(mm/h, kg/m²/h)', 303, 185],
  ['ciśnienie', 290, 272], ['(hPa)', 303, 272], ['wiatr', 290, 360], ['(m/s)', 303, 361],
  ['pion. rozciągł. chm.', 290, 473], ['(km)', 303, 473], ['zachmurzenie', 290, 572], ['(oktanty)', 303, 566],
  ['(°C)', 889, 97], ['temperatura', 902, 96], ['(%)', 889, 187], ['wilgotność wzgl.', 902, 187],
  ['(mm Hg)', 889, 273], ['ciśnienie', 902, 272], ['(km/h)', 889, 361], ['wiatr', 902, 361],
  ['(km)', 889, 474], ['widzialność', 902, 475], ['(frakcja)', 889, 562], ['mgła', 902, 563],
];
axisTitles.forEach(([s, x, y]) => text(s, x, y, NAVY, { center: true, rotate: true }));
[['W', 287, 415], ['N', 298, 407], ['E', 305, 415], ['S', 297, 423], ['W', 887, 415], ['N', 898, 407], ['E', 904, 415], ['S', 897, 423]]
  .forEach(([s, x, y]) => text(s, x, y, NAVY, { center: true, size: 13 }));

const GREEN = '#00a000';
const BROWN = '#a52a2a';
const BLUE = '#0030d0';
const legendTexts = [
  ['Czas lokalny', 6, 15, '#000'], ['(CET/CEST)', 6, 26, '#000'],
  ['Temperatura gruntu', 6, 42, BROWN], ['max/min', 27, 52, BROWN],
  ['Temperatura:', 6, 64, '#000'], ['punkt środkowy', 13, 77, '#ff0000'], ['max/min', 28, 87, '#ffdcc8'],
  ['odczuwana', 10, 98, BLUE], ['max/min', 28, 108, '#a8dcff'], ['Temp. punktu rosy', 6, 120, '#6a5acd'],
  ['Opad powyżej skali', 6, 137, '#ff0000'], ['Wilgotność względna', 6, 151, RED_ORANGE], ['Wystąpienie burzy', 6, 165, '#000'],
  ['Deszcz: max', 6, 179, GREEN], ['średni', 49, 190, GREEN], ['Śnieg:', 6, 201, BLUE], ['max', 49, 201, BLUE], ['średni', 49, 212, BLUE],
  ['Wystąpienie opadu', 6, 224, '#ff0000'], ['konwekcyjnego', 6, 237, '#ff0000'],
  ['Ciśnienie', 5, 263, '#000'], ['zredukowane', 5, 276, '#000'], ['do poziomu morza', 5, 289, '#000'],
  ['Wiatr na 10m:', 5, 318, '#000'], ['poryw powyżej skali', 10, 334, '#ff0000'], ['max porywy wiatru', 10, 349, '#ff0000'],
  ['prędkość wiatru', 10, 368, NAVY], ['w środku obszaru', 10, 381, NAVY], ['kierunek wiatru', 10, 409, NAVY],
  ['Wierzchołek chmur', 6, 429, BROWN], ['Podstawa chmur*', 6, 444, '#000'], ['o pokryciu', 6, 456, '#000'],
  ['> 7.9 okt.', 10, 469, '#000'], ['> 6.5 okt.', 10, 480, '#555'], ['> 4.5 okt.', 10, 491, '#aaa'], ['> 2.5 okt.', 10, 501, '#ddd'],
  ['Widzialność', 6, 526, ORANGE], ['Chmury:', 6, 543, '#000'],
  ['średnie', 10, 569, '#999'], ['niskie', 10, 581, '#444'], ['bardzo niskie', 10, 593, '#222'], ['Mgła', 6, 606, '#ffb000'],
  ['Czas uniwersalny (UTC)', 6, 622, '#000'],
];
legendTexts.forEach(([s, x, y, c]) => text(s, x, y, c, { size: 11, ls: .1 }));
text('> 0.1 okt.', 10, 511, '#fff', { bg: SKY, size: 11, ls: .1 });
text('wysokie', 10, 555, '#fff', { bg: SKY, size: 11, ls: .1 });
text('* powyżej poziomu morza', 5, 648, '#000', { size: 10, bold: true, ls: 0 });

// ---- leader lines ----
const leaders = [
  ['#000', '68,16 130,16 157,46'], [BROWN, '102,43 120,43 157,100'], ['#ff0000', '92,77 115,77'], ['#ff0000', '130,76 134,77 157,100'],
  [BLUE, '70,99 115,99'], [BLUE, '130,99 137,99'], ['#6a5acd', '94,120 118,120 135,113'],
  ['#ff0000', '102,137 135,137 146,146'], [RED_ORANGE, '106,151 110,151'], [RED_ORANGE, '128,151 150,170'],
  ['#000', '101,166 112,166'], ['#000', '128,166 140,173'], [GREEN, '72,179 140,179 140,175'], [GREEN, '80,190 145,190'],
  [BLUE, '70,201 112,201'], [BLUE, '128,201 160,170'], [BLUE, '80,212 112,212'], [BLUE, '130,212 158,185'], ['#ff0000', '97,224 142,224 146,220'],
  ['#000', '52,264 128,264 135,261'], ['#ff0000', '112,334 118,334'], ['#ff0000', '130,334 138,316'], ['#ff0000', '108,349 130,349 147,340'],
  [NAVY, '92,368 135,368 140,372'], [NAVY, '86,410 138,410'], [BROWN, '100,431 185,447'],
  ['#000', '58,469 130,469 195,455'], ['#444', '58,481 143,481'], ['#999', '58,491 132,491 143,503'], ['#ccc', '58,501 130,501 143,504'],
  ['#86cdff', '55,509 130,509'], ['#86cdff', '55,511 130,511'], [ORANGE, '67,527 130,527 172,463'],
  ['#86cdff', '53,555 186,555'], ['#86cdff', '53,557 186,557'], ['#999', '48,571 190,571'], ['#222', '40,582 125,582'], ['#222', '74,594 137,594'],
  ['#ffb000', '28,605 215,605 218,600'], ['#000', '139,623 148,623 158,608'],
];
const svg = document.createElementNS(svgNS, 'svg');
svg.setAttribute('width', 910);
svg.setAttribute('height', 660);
leaders.forEach(([color, points]) => {
  const l = document.createElementNS(svgNS, 'polyline');
  l.setAttribute('points', points);
  l.setAttribute('fill', 'none');
  l.setAttribute('stroke', color);
  l.setAttribute('stroke-width', 1);
  svg.appendChild(l);
});
page.appendChild(svg);
</script>
</body>
</html>
